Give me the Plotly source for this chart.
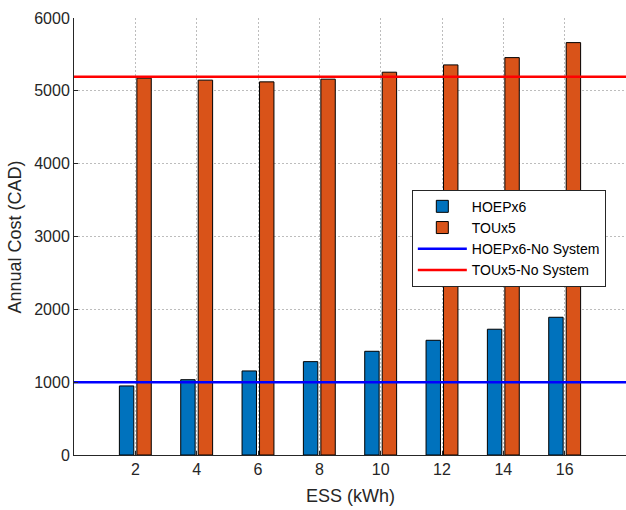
import plotly.graph_objects as go

ess_kwh = [2, 4, 6, 8, 10, 12, 14, 16]
hoep_x6 = [948, 1034, 1154, 1282, 1424, 1575, 1727, 1891]
tou_x5 = [5174, 5147, 5123, 5160, 5256, 5356, 5456, 5662]
hoep_no_system = 1000
tou_no_system = 5195
x_range = [0, 18]
y_ticks = [0, 1000, 2000, 3000, 4000, 5000, 6000]

FONT = "Liberation Sans, Arial, sans-serif"
bar_w = 0.47

fig = go.Figure()
fig.add_trace(go.Bar(
    x=ess_kwh, y=hoep_x6, name="HOEPx6", width=bar_w, offset=-0.52,
    marker=dict(color="#0072BD", line=dict(color="black", width=1)),
))
fig.add_trace(go.Bar(
    x=ess_kwh, y=tou_x5, name="TOUx5", width=bar_w, offset=0.05,
    marker=dict(color="#D95319", line=dict(color="black", width=1)),
))
fig.add_trace(go.Scatter(
    x=x_range, y=[hoep_no_system] * 2, mode="lines", name="HOEPx6-No System",
    line=dict(color="#0000FF", width=2.5),
))
fig.add_trace(go.Scatter(
    x=x_range, y=[tou_no_system] * 2, mode="lines", name="TOUx5-No System",
    line=dict(color="#FF0000", width=2.5),
))

grid = dict(showgrid=True, gridcolor="#bdbdbd", griddash="2px,2px", gridwidth=1)

fig.update_layout(
    width=626, height=510,
    margin=dict(l=74, r=0, t=18, b=55),
    plot_bgcolor="white", paper_bgcolor="white",
    barmode="overlay",
    font=dict(family=FONT, size=16, color="#262626"),
    showlegend=True,
    legend=dict(
        x=0.612, y=0.607, xanchor="left", yanchor="top",
        bgcolor="white", bordercolor="#262626", borderwidth=1,
        font=dict(size=14, color="black"),
        tracegroupgap=0, itemwidth=49,
    ),
    xaxis=dict(
        range=x_range, tickvals=ess_kwh, ticktext=[str(v) for v in ess_kwh],
        **grid,
        showline=True, linecolor="#262626", linewidth=1,
        ticks="inside", ticklen=4, tickcolor="#262626",
        zeroline=False, automargin=False,
    ),
    yaxis=dict(
        range=[0, 6000], tickvals=y_ticks,
        **grid,
        showline=True, linecolor="#262626", linewidth=1,
        ticks="inside", ticklen=4, tickcolor="#262626",
        zeroline=False, automargin=False,
    ),
    annotations=[
        dict(text="ESS (kWh)", xref="paper", yref="paper", x=0.5, y=-0.094,
             xanchor="center", yanchor="middle", showarrow=False,
             font=dict(size=18, color="#262626")),
        dict(text="Annual Cost (CAD)", xref="paper", yref="paper", x=-0.107, y=0.5,
             xanchor="center", yanchor="middle", textangle=-90, showarrow=False,
             font=dict(size=18, color="#262626")),
    ],
)

fig.write_html(
    "out.html",
    config={"displayModeBar": False},
    post_script="document.body.style.margin='0';document.body.style.overflow='hidden';",
)
